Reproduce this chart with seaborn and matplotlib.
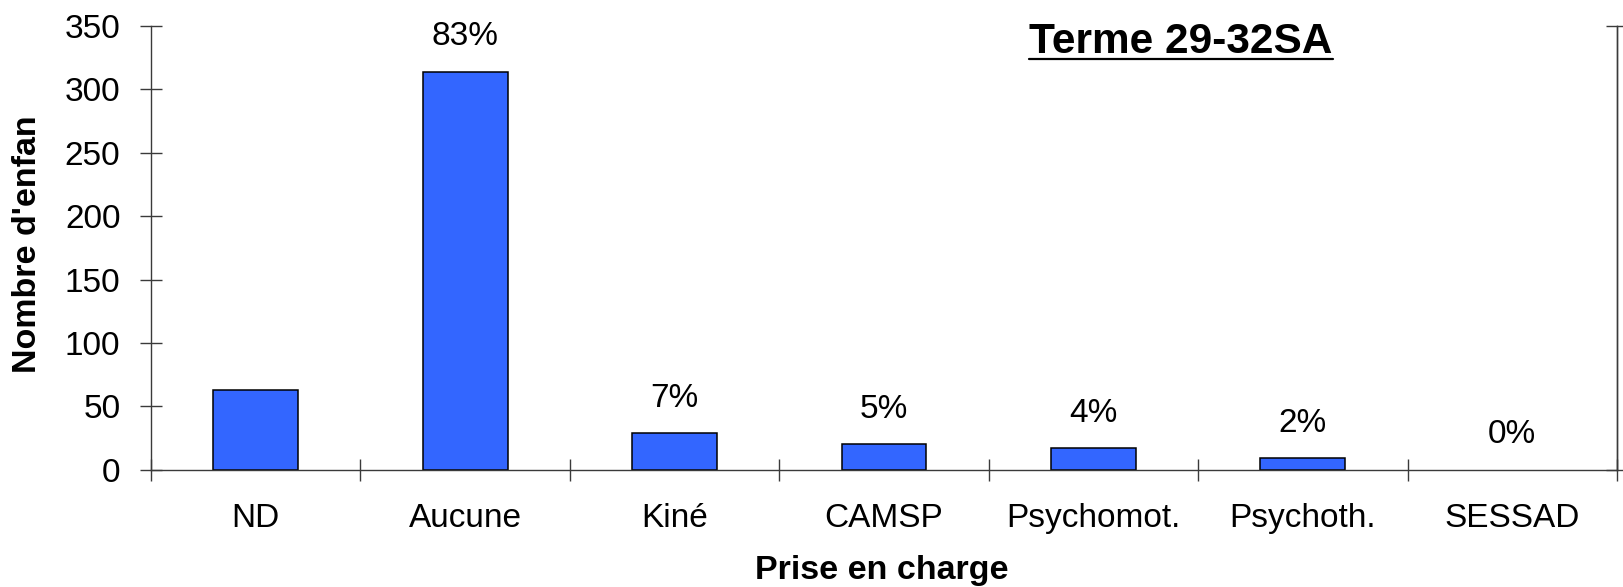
import numpy as np
import pandas as pd
import matplotlib
matplotlib.use('Agg')
import matplotlib.pyplot as plt
from matplotlib.lines import Line2D
import seaborn as sns

# data
categories = ['ND', 'Aucune', 'Kiné', 'CAMSP', 'Psychomot.', 'Psychoth.', 'SESSAD']
counts = [63, 314, 29, 20, 17, 9, 0]
pct_labels = ['', '83%', '7%', '5%', '4%', '2%', '0%']
y_ticks = [0, 50, 100, 150, 200, 250, 300, 350]

sns.set_theme(style='white')
plt.rcParams['font.family'] = ['Liberation Sans', 'DejaVu Sans']
plt.rcParams['text.color'] = 'black'

W, H = 1623, 587
fig = plt.figure(figsize=(W / 100, H / 100), dpi=100)
ax = fig.add_axes([151 / W, 1 - 469.7 / H, (1617 - 151) / W, (469.7 - 26) / H])

df = pd.DataFrame({'prise': categories, 'n': counts})
sns.barplot(data=df, x='prise', y='n', color='#3366FF', saturation=1,
            edgecolor='black', linewidth=1.1, width=0.405, ax=ax)
# empty bars are not drawn in the reference
for p in ax.patches:
    if p.get_height() == 0:
        p.set_visible(False)

ax.set_xlim(-0.5, len(categories) - 0.5)
ax.set_ylim(0, 350)
ax.set_xlabel('')
ax.set_ylabel('')

axis_col = '#3a3a3a'
ax.spines['top'].set_visible(False)
for s in ['left', 'bottom', 'right']:
    ax.spines[s].set_color(axis_col)
    ax.spines[s].set_linewidth(1)

fs = 24

# y ticks
ax.set_yticks(y_ticks)
ax.tick_params(axis='y', direction='inout', length=16, width=1, color=axis_col,
               labelsize=fs, pad=14, left=True, labelcolor='black')

# x ticks at category boundaries, labels at centres
ax.set_xticks(np.arange(-0.5, len(categories), 1.0))
ax.set_xticklabels([])
ax.set_xticks(np.arange(len(categories)), minor=True)
ax.set_xticklabels(categories, minor=True)
ax.tick_params(axis='x', which='major', direction='inout', length=16, width=1,
               color=axis_col, bottom=True)
ax.tick_params(axis='x', which='minor', length=0, labelsize=fs, pad=24,
               labelcolor='black')

# right-hand axis line with end ticks
ax2 = ax.twinx()
ax2.set_ylim(0, 350)
ax2.set_yticks([0, 350])
ax2.tick_params(axis='y', direction='inout', length=16, width=1, color=axis_col,
                labelright=False, right=True)
for s in ['top', 'left', 'bottom']:
    ax2.spines[s].set_visible(False)
ax2.spines['right'].set_color(axis_col)
ax2.spines['right'].set_linewidth(1)
ax2.grid(False)

# percentage labels above the bars
for i, (v, lab) in enumerate(zip(counts, pct_labels)):
    if lab:
        ax.annotate(lab, xy=(i, v), xytext=(0, 25), textcoords='offset points',
                    ha='center', va='center', fontsize=fs, color='black')

fig.text(28 / W, 1 - 244 / H, "Nombre d'enfan", rotation=90, ha='center',
         va='center', fontsize=24.5, fontweight='bold')
fig.text(882 / W, 1 - 571 / H, 'Prise en charge', ha='center', va='center',
         fontsize=24.5, fontweight='bold')

title = fig.text(1181 / W, 1 - 53.3 / H, 'Terme 29-32SA', ha='center',
                 va='baseline', fontsize=30.5, fontweight='bold')

# underline the title
fig.canvas.draw()
bb = title.get_window_extent()
uy = (H - 58.5) / H
fig.add_artist(Line2D([bb.x0 / W, bb.x1 / W], [uy, uy], transform=fig.transFigure,
                      color='black', linewidth=1.6))

fig.savefig('out.png', dpi=100)
